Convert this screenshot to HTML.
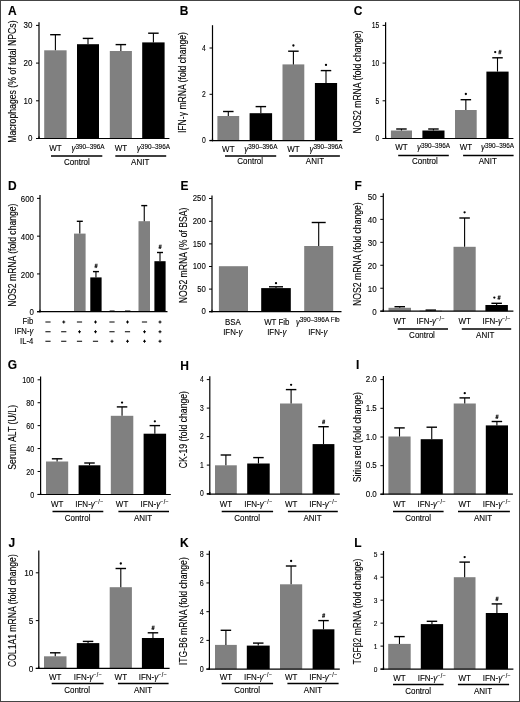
<!DOCTYPE html>
<html><head><meta charset="utf-8"><style>
html,body{margin:0;padding:0;background:#fff;}
svg{display:block;filter:grayscale(1);}
text{font-family:"Liberation Sans", sans-serif;fill:#000;stroke:#000;stroke-width:0.12px;}
</style></head><body>
<svg width="520" height="702" viewBox="0 0 520 702">
<rect x="0" y="0" width="520" height="702" fill="#fff"/>
<text transform="translate(7.90 15.40) scale(0.88 1)" font-size="13.6" font-weight="bold">A</text>
<line x1="39.00" y1="22.30" x2="39.00" y2="139.10" stroke="#000" stroke-width="1.2"/>
<line x1="36.00" y1="138.50" x2="39.00" y2="138.50" stroke="#000" stroke-width="1.0"/>
<text transform="translate(32.40 141.24) scale(0.833 1)" font-size="9.60" text-anchor="end">0</text>
<line x1="36.00" y1="100.80" x2="39.00" y2="100.80" stroke="#000" stroke-width="1.0"/>
<text transform="translate(32.40 103.54) scale(0.833 1)" font-size="9.60" text-anchor="end">10</text>
<line x1="36.00" y1="63.10" x2="39.00" y2="63.10" stroke="#000" stroke-width="1.0"/>
<text transform="translate(32.40 65.84) scale(0.833 1)" font-size="9.60" text-anchor="end">20</text>
<line x1="36.00" y1="25.40" x2="39.00" y2="25.40" stroke="#000" stroke-width="1.0"/>
<text transform="translate(32.40 28.14) scale(0.833 1)" font-size="9.60" text-anchor="end">30</text>
<rect x="44.20" y="50.30" width="22.40" height="88.20" fill="#808080"/>
<line x1="55.40" y1="34.70" x2="55.40" y2="50.30" stroke="#000" stroke-width="1.1"/>
<line x1="50.15" y1="34.70" x2="60.65" y2="34.70" stroke="#000" stroke-width="1.4"/>
<rect x="77.00" y="44.20" width="22.00" height="94.30" fill="#000"/>
<line x1="88.00" y1="38.40" x2="88.00" y2="44.20" stroke="#000" stroke-width="1.1"/>
<line x1="82.75" y1="38.40" x2="93.25" y2="38.40" stroke="#000" stroke-width="1.4"/>
<rect x="109.80" y="51.00" width="22.10" height="87.50" fill="#808080"/>
<line x1="120.85" y1="44.60" x2="120.85" y2="51.00" stroke="#000" stroke-width="1.1"/>
<line x1="115.60" y1="44.60" x2="126.10" y2="44.60" stroke="#000" stroke-width="1.4"/>
<rect x="142.20" y="42.40" width="22.40" height="96.10" fill="#000"/>
<line x1="153.40" y1="33.20" x2="153.40" y2="42.40" stroke="#000" stroke-width="1.1"/>
<line x1="148.15" y1="33.20" x2="158.65" y2="33.20" stroke="#000" stroke-width="1.4"/>
<line x1="36.00" y1="138.50" x2="169.40" y2="138.50" stroke="#000" stroke-width="1.2"/>
<line x1="39.00" y1="136.50" x2="39.00" y2="139.10" stroke="#000" stroke-width="1.2"/>
<text transform="translate(15.90 81.60) rotate(-90) scale(0.836 1)" font-size="10.42" text-anchor="middle">Macrophages (% of total NPCs)</text>
<text transform="translate(55.40 151.00) scale(0.833 1)" font-size="9.60" text-anchor="middle">WT</text>
<text transform="translate(88.00 151.00) scale(0.833 1)" font-size="9.60" text-anchor="middle"><tspan font-style="italic">γ</tspan><tspan font-size="7.68" dy="-2.5">390–396A</tspan></text>
<text transform="translate(120.85 151.00) scale(0.833 1)" font-size="9.60" text-anchor="middle">WT</text>
<text transform="translate(153.40 151.00) scale(0.833 1)" font-size="9.60" text-anchor="middle"><tspan font-style="italic">γ</tspan><tspan font-size="7.68" dy="-2.5">390–396A</tspan></text>
<line x1="51.00" y1="156.00" x2="102.30" y2="156.00" stroke="#000" stroke-width="1.5"/>
<line x1="115.30" y1="156.00" x2="166.20" y2="156.00" stroke="#000" stroke-width="1.5"/>
<text transform="translate(76.90 164.60) scale(0.833 1)" font-size="9.60" text-anchor="middle">Control</text>
<text transform="translate(140.20 164.60) scale(0.833 1)" font-size="9.60" text-anchor="middle">ANIT</text>
<text transform="translate(179.80 15.40) scale(0.88 1)" font-size="13.6" font-weight="bold">B</text>
<line x1="212.50" y1="25.20" x2="212.50" y2="141.20" stroke="#000" stroke-width="1.2"/>
<line x1="209.50" y1="140.40" x2="212.50" y2="140.40" stroke="#000" stroke-width="1.0"/>
<text transform="translate(205.90 143.32) scale(0.833 1)" font-size="8.16" text-anchor="end">0</text>
<line x1="209.50" y1="94.30" x2="212.50" y2="94.30" stroke="#000" stroke-width="1.0"/>
<text transform="translate(205.90 97.22) scale(0.833 1)" font-size="8.16" text-anchor="end">2</text>
<line x1="209.50" y1="48.00" x2="212.50" y2="48.00" stroke="#000" stroke-width="1.0"/>
<text transform="translate(205.90 50.92) scale(0.833 1)" font-size="8.16" text-anchor="end">4</text>
<rect x="217.40" y="116.00" width="21.80" height="24.60" fill="#808080"/>
<line x1="228.30" y1="111.50" x2="228.30" y2="116.00" stroke="#000" stroke-width="1.1"/>
<line x1="223.05" y1="111.50" x2="233.55" y2="111.50" stroke="#000" stroke-width="1.4"/>
<rect x="249.60" y="113.20" width="22.50" height="27.40" fill="#000"/>
<line x1="260.85" y1="106.60" x2="260.85" y2="113.20" stroke="#000" stroke-width="1.1"/>
<line x1="255.60" y1="106.60" x2="266.10" y2="106.60" stroke="#000" stroke-width="1.4"/>
<rect x="282.50" y="64.40" width="21.80" height="76.20" fill="#808080"/>
<line x1="293.40" y1="51.20" x2="293.40" y2="64.40" stroke="#000" stroke-width="1.1"/>
<line x1="288.15" y1="51.20" x2="298.65" y2="51.20" stroke="#000" stroke-width="1.4"/>
<circle cx="293.40" cy="45.50" r="1.15" fill="#000"/>
<rect x="314.90" y="83.00" width="22.20" height="57.60" fill="#000"/>
<line x1="326.00" y1="70.60" x2="326.00" y2="83.00" stroke="#000" stroke-width="1.1"/>
<line x1="320.75" y1="70.60" x2="331.25" y2="70.60" stroke="#000" stroke-width="1.4"/>
<circle cx="326.00" cy="64.90" r="1.15" fill="#000"/>
<line x1="209.50" y1="140.60" x2="342.30" y2="140.60" stroke="#000" stroke-width="1.2"/>
<line x1="212.50" y1="138.60" x2="212.50" y2="141.20" stroke="#000" stroke-width="1.2"/>
<text transform="translate(186.40 82.60) rotate(-90) scale(0.827 1)" font-size="10.42" text-anchor="middle">IFN-γ mRNA (fold change)</text>
<text transform="translate(228.30 151.50) scale(0.833 1)" font-size="9.60" text-anchor="middle">WT</text>
<text transform="translate(260.85 151.50) scale(0.833 1)" font-size="9.60" text-anchor="middle"><tspan font-style="italic">γ</tspan><tspan font-size="7.68" dy="-2.5">390–396A</tspan></text>
<text transform="translate(293.40 151.50) scale(0.833 1)" font-size="9.60" text-anchor="middle">WT</text>
<text transform="translate(326.00 151.50) scale(0.833 1)" font-size="9.60" text-anchor="middle"><tspan font-style="italic">γ</tspan><tspan font-size="7.68" dy="-2.5">390–396A</tspan></text>
<line x1="225.00" y1="156.10" x2="276.20" y2="156.10" stroke="#000" stroke-width="1.5"/>
<line x1="289.20" y1="156.10" x2="339.90" y2="156.10" stroke="#000" stroke-width="1.5"/>
<text transform="translate(250.20 164.20) scale(0.833 1)" font-size="9.60" text-anchor="middle">Control</text>
<text transform="translate(314.90 164.20) scale(0.833 1)" font-size="9.60" text-anchor="middle">ANIT</text>
<text transform="translate(353.80 15.40) scale(0.88 1)" font-size="13.6" font-weight="bold">C</text>
<line x1="385.60" y1="22.20" x2="385.60" y2="139.10" stroke="#000" stroke-width="1.2"/>
<line x1="382.60" y1="138.50" x2="385.60" y2="138.50" stroke="#000" stroke-width="1.0"/>
<text transform="translate(379.30 141.42) scale(0.833 1)" font-size="8.16" text-anchor="end">0</text>
<line x1="382.60" y1="100.80" x2="385.60" y2="100.80" stroke="#000" stroke-width="1.0"/>
<text transform="translate(379.30 103.72) scale(0.833 1)" font-size="8.16" text-anchor="end">5</text>
<line x1="382.60" y1="63.10" x2="385.60" y2="63.10" stroke="#000" stroke-width="1.0"/>
<text transform="translate(379.30 66.02) scale(0.833 1)" font-size="8.16" text-anchor="end">10</text>
<line x1="382.60" y1="25.40" x2="385.60" y2="25.40" stroke="#000" stroke-width="1.0"/>
<text transform="translate(379.30 28.32) scale(0.833 1)" font-size="8.16" text-anchor="end">15</text>
<rect x="390.90" y="130.50" width="21.10" height="8.00" fill="#808080"/>
<line x1="401.45" y1="129.00" x2="401.45" y2="130.50" stroke="#000" stroke-width="1.1"/>
<line x1="396.20" y1="129.00" x2="406.70" y2="129.00" stroke="#000" stroke-width="1.4"/>
<rect x="422.40" y="130.50" width="22.10" height="8.00" fill="#000"/>
<line x1="433.45" y1="129.00" x2="433.45" y2="130.50" stroke="#000" stroke-width="1.1"/>
<line x1="428.20" y1="129.00" x2="438.70" y2="129.00" stroke="#000" stroke-width="1.4"/>
<rect x="455.00" y="110.00" width="21.70" height="28.50" fill="#808080"/>
<line x1="465.85" y1="99.70" x2="465.85" y2="110.00" stroke="#000" stroke-width="1.1"/>
<line x1="460.60" y1="99.70" x2="471.10" y2="99.70" stroke="#000" stroke-width="1.4"/>
<circle cx="465.85" cy="94.00" r="1.15" fill="#000"/>
<rect x="486.40" y="71.60" width="22.20" height="66.90" fill="#000"/>
<line x1="497.50" y1="57.80" x2="497.50" y2="71.60" stroke="#000" stroke-width="1.1"/>
<line x1="492.25" y1="57.80" x2="502.75" y2="57.80" stroke="#000" stroke-width="1.4"/>
<circle cx="495.20" cy="52.10" r="1.15" fill="#000"/>
<path d="M499.70 49.90L499.00 54.30M500.90 49.90L500.20 54.30M498.50 51.30H501.50M498.30 52.90H501.30" stroke="#000" stroke-width="0.70" fill="none"/>
<line x1="382.60" y1="138.50" x2="513.40" y2="138.50" stroke="#000" stroke-width="1.2"/>
<line x1="385.60" y1="136.50" x2="385.60" y2="139.10" stroke="#000" stroke-width="1.2"/>
<text transform="translate(361.10 81.95) rotate(-90) scale(0.826 1)" font-size="10.42" text-anchor="middle">NOS2 mRNA (fold change)</text>
<text transform="translate(401.45 150.40) scale(0.833 1)" font-size="9.60" text-anchor="middle">WT</text>
<text transform="translate(433.45 150.40) scale(0.833 1)" font-size="9.60" text-anchor="middle"><tspan font-style="italic">γ</tspan><tspan font-size="7.68" dy="-2.5">390–396A</tspan></text>
<text transform="translate(465.85 150.40) scale(0.833 1)" font-size="9.60" text-anchor="middle">WT</text>
<text transform="translate(497.50 150.40) scale(0.833 1)" font-size="9.60" text-anchor="middle"><tspan font-style="italic">γ</tspan><tspan font-size="7.68" dy="-2.5">390–396A</tspan></text>
<line x1="398.20" y1="155.60" x2="448.80" y2="155.60" stroke="#000" stroke-width="1.5"/>
<line x1="463.10" y1="155.60" x2="513.60" y2="155.60" stroke="#000" stroke-width="1.5"/>
<text transform="translate(424.90 164.10) scale(0.833 1)" font-size="9.60" text-anchor="middle">Control</text>
<text transform="translate(487.80 164.10) scale(0.833 1)" font-size="9.60" text-anchor="middle">ANIT</text>
<text transform="translate(354.50 190.20) scale(0.88 1)" font-size="13.6" font-weight="bold">F</text>
<line x1="383.30" y1="193.20" x2="383.30" y2="311.80" stroke="#000" stroke-width="1.2"/>
<line x1="380.30" y1="311.20" x2="383.30" y2="311.20" stroke="#000" stroke-width="1.0"/>
<text transform="translate(376.70 314.64) scale(0.833 1)" font-size="9.60" text-anchor="end">0</text>
<line x1="380.30" y1="288.24" x2="383.30" y2="288.24" stroke="#000" stroke-width="1.0"/>
<text transform="translate(376.70 291.68) scale(0.833 1)" font-size="9.60" text-anchor="end">10</text>
<line x1="380.30" y1="265.28" x2="383.30" y2="265.28" stroke="#000" stroke-width="1.0"/>
<text transform="translate(376.70 268.72) scale(0.833 1)" font-size="9.60" text-anchor="end">20</text>
<line x1="380.30" y1="242.32" x2="383.30" y2="242.32" stroke="#000" stroke-width="1.0"/>
<text transform="translate(376.70 245.76) scale(0.833 1)" font-size="9.60" text-anchor="end">30</text>
<line x1="380.30" y1="219.36" x2="383.30" y2="219.36" stroke="#000" stroke-width="1.0"/>
<text transform="translate(376.70 222.80) scale(0.833 1)" font-size="9.60" text-anchor="end">40</text>
<line x1="380.30" y1="196.40" x2="383.30" y2="196.40" stroke="#000" stroke-width="1.0"/>
<text transform="translate(376.70 199.84) scale(0.833 1)" font-size="9.60" text-anchor="end">50</text>
<rect x="388.50" y="307.80" width="22.50" height="3.40" fill="#808080"/>
<line x1="399.75" y1="306.70" x2="399.75" y2="307.80" stroke="#000" stroke-width="1.1"/>
<line x1="394.50" y1="306.70" x2="405.00" y2="306.70" stroke="#000" stroke-width="1.4"/>
<rect x="419.60" y="310.80" width="22.40" height="0.40" fill="#000"/>
<line x1="430.80" y1="310.10" x2="430.80" y2="310.80" stroke="#000" stroke-width="1.1"/>
<line x1="425.55" y1="310.10" x2="436.05" y2="310.10" stroke="#000" stroke-width="1.4"/>
<rect x="453.50" y="246.80" width="22.20" height="64.40" fill="#808080"/>
<line x1="464.60" y1="218.00" x2="464.60" y2="246.80" stroke="#000" stroke-width="1.1"/>
<line x1="459.35" y1="218.00" x2="469.85" y2="218.00" stroke="#000" stroke-width="1.4"/>
<circle cx="464.60" cy="212.30" r="1.15" fill="#000"/>
<rect x="485.40" y="305.00" width="22.50" height="6.20" fill="#000"/>
<line x1="496.65" y1="303.30" x2="496.65" y2="305.00" stroke="#000" stroke-width="1.1"/>
<line x1="491.40" y1="303.30" x2="501.90" y2="303.30" stroke="#000" stroke-width="1.4"/>
<circle cx="494.35" cy="297.60" r="1.15" fill="#000"/>
<path d="M498.85 295.40L498.15 299.80M500.05 295.40L499.35 299.80M497.65 296.80H500.65M497.45 298.40H500.45" stroke="#000" stroke-width="0.70" fill="none"/>
<line x1="380.30" y1="311.20" x2="513.40" y2="311.20" stroke="#000" stroke-width="1.2"/>
<line x1="383.30" y1="309.20" x2="383.30" y2="311.80" stroke="#000" stroke-width="1.2"/>
<text transform="translate(360.70 254.10) rotate(-90) scale(0.829 1)" font-size="10.42" text-anchor="middle">NOS2 mRNA (fold change)</text>
<text transform="translate(399.75 324.00) scale(0.833 1)" font-size="9.60" text-anchor="middle">WT</text>
<text transform="translate(430.80 324.00) scale(0.833 1)" font-size="9.60" text-anchor="middle">IFN-<tspan font-style="italic">γ</tspan><tspan font-size="6.36" dy="-2.8" letter-spacing="0.5">−/−</tspan></text>
<text transform="translate(464.60 324.00) scale(0.833 1)" font-size="9.60" text-anchor="middle">WT</text>
<text transform="translate(496.65 324.00) scale(0.833 1)" font-size="9.60" text-anchor="middle">IFN-<tspan font-style="italic">γ</tspan><tspan font-size="6.36" dy="-2.8" letter-spacing="0.5">−/−</tspan></text>
<line x1="397.70" y1="329.00" x2="448.00" y2="329.00" stroke="#000" stroke-width="1.5"/>
<line x1="461.80" y1="329.00" x2="511.20" y2="329.00" stroke="#000" stroke-width="1.5"/>
<text transform="translate(422.00 337.50) scale(0.833 1)" font-size="9.60" text-anchor="middle">Control</text>
<text transform="translate(485.20 337.50) scale(0.833 1)" font-size="9.60" text-anchor="middle">ANIT</text>
<text transform="translate(7.70 369.40) scale(0.88 1)" font-size="13.6" font-weight="bold">G</text>
<line x1="40.60" y1="376.60" x2="40.60" y2="495.10" stroke="#000" stroke-width="1.2"/>
<line x1="37.60" y1="494.40" x2="40.60" y2="494.40" stroke="#000" stroke-width="1.0"/>
<text transform="translate(34.20 497.89) scale(0.833 1)" font-size="8.64" text-anchor="end">0</text>
<line x1="37.60" y1="471.48" x2="40.60" y2="471.48" stroke="#000" stroke-width="1.0"/>
<text transform="translate(34.20 474.97) scale(0.833 1)" font-size="8.64" text-anchor="end">20</text>
<line x1="37.60" y1="448.56" x2="40.60" y2="448.56" stroke="#000" stroke-width="1.0"/>
<text transform="translate(34.20 452.05) scale(0.833 1)" font-size="8.64" text-anchor="end">40</text>
<line x1="37.60" y1="425.64" x2="40.60" y2="425.64" stroke="#000" stroke-width="1.0"/>
<text transform="translate(34.20 429.13) scale(0.833 1)" font-size="8.64" text-anchor="end">60</text>
<line x1="37.60" y1="402.72" x2="40.60" y2="402.72" stroke="#000" stroke-width="1.0"/>
<text transform="translate(34.20 406.21) scale(0.833 1)" font-size="8.64" text-anchor="end">80</text>
<line x1="37.60" y1="379.80" x2="40.60" y2="379.80" stroke="#000" stroke-width="1.0"/>
<text transform="translate(34.20 383.29) scale(0.833 1)" font-size="8.64" text-anchor="end">100</text>
<rect x="46.00" y="461.50" width="22.20" height="33.00" fill="#808080"/>
<line x1="57.10" y1="458.80" x2="57.10" y2="461.50" stroke="#000" stroke-width="1.1"/>
<line x1="51.85" y1="458.80" x2="62.35" y2="458.80" stroke="#000" stroke-width="1.4"/>
<rect x="78.60" y="465.30" width="21.80" height="29.20" fill="#000"/>
<line x1="89.50" y1="463.00" x2="89.50" y2="465.30" stroke="#000" stroke-width="1.1"/>
<line x1="84.25" y1="463.00" x2="94.75" y2="463.00" stroke="#000" stroke-width="1.4"/>
<rect x="110.80" y="415.80" width="22.50" height="78.70" fill="#808080"/>
<line x1="122.05" y1="406.90" x2="122.05" y2="415.80" stroke="#000" stroke-width="1.1"/>
<line x1="116.80" y1="406.90" x2="127.30" y2="406.90" stroke="#000" stroke-width="1.4"/>
<circle cx="122.05" cy="402.60" r="1.15" fill="#000"/>
<rect x="143.60" y="433.70" width="22.50" height="60.80" fill="#000"/>
<line x1="154.85" y1="425.60" x2="154.85" y2="433.70" stroke="#000" stroke-width="1.1"/>
<line x1="149.60" y1="425.60" x2="160.10" y2="425.60" stroke="#000" stroke-width="1.4"/>
<circle cx="154.85" cy="421.30" r="1.15" fill="#000"/>
<line x1="37.60" y1="494.50" x2="170.80" y2="494.50" stroke="#000" stroke-width="1.2"/>
<line x1="40.60" y1="492.50" x2="40.60" y2="495.10" stroke="#000" stroke-width="1.2"/>
<text transform="translate(15.50 437.35) rotate(-90) scale(0.840 1)" font-size="10.42" text-anchor="middle">Serum ALT (U/L)</text>
<text transform="translate(57.10 506.70) scale(0.833 1)" font-size="9.60" text-anchor="middle">WT</text>
<text transform="translate(89.50 506.70) scale(0.833 1)" font-size="9.60" text-anchor="middle">IFN-<tspan font-style="italic">γ</tspan><tspan font-size="6.36" dy="-2.8" letter-spacing="0.5">−/−</tspan></text>
<text transform="translate(122.05 506.70) scale(0.833 1)" font-size="9.60" text-anchor="middle">WT</text>
<text transform="translate(154.85 506.70) scale(0.833 1)" font-size="9.60" text-anchor="middle">IFN-<tspan font-style="italic">γ</tspan><tspan font-size="6.36" dy="-2.8" letter-spacing="0.5">−/−</tspan></text>
<line x1="52.50" y1="511.50" x2="103.30" y2="511.50" stroke="#000" stroke-width="1.5"/>
<line x1="118.40" y1="511.50" x2="169.00" y2="511.50" stroke="#000" stroke-width="1.5"/>
<text transform="translate(77.60 521.00) scale(0.833 1)" font-size="9.60" text-anchor="middle">Control</text>
<text transform="translate(143.00 521.00) scale(0.833 1)" font-size="9.60" text-anchor="middle">ANIT</text>
<text transform="translate(180.30 369.60) scale(0.88 1)" font-size="13.6" font-weight="bold">H</text>
<line x1="209.80" y1="376.30" x2="209.80" y2="494.70" stroke="#000" stroke-width="1.2"/>
<line x1="206.80" y1="493.60" x2="209.80" y2="493.60" stroke="#000" stroke-width="1.0"/>
<text transform="translate(203.80 496.12) scale(0.833 1)" font-size="8.16" text-anchor="end">0</text>
<line x1="206.80" y1="465.10" x2="209.80" y2="465.10" stroke="#000" stroke-width="1.0"/>
<text transform="translate(203.80 467.62) scale(0.833 1)" font-size="8.16" text-anchor="end">1</text>
<line x1="206.80" y1="436.60" x2="209.80" y2="436.60" stroke="#000" stroke-width="1.0"/>
<text transform="translate(203.80 439.12) scale(0.833 1)" font-size="8.16" text-anchor="end">2</text>
<line x1="206.80" y1="408.10" x2="209.80" y2="408.10" stroke="#000" stroke-width="1.0"/>
<text transform="translate(203.80 410.62) scale(0.833 1)" font-size="8.16" text-anchor="end">3</text>
<line x1="206.80" y1="379.60" x2="209.80" y2="379.60" stroke="#000" stroke-width="1.0"/>
<text transform="translate(203.80 382.12) scale(0.833 1)" font-size="8.16" text-anchor="end">4</text>
<rect x="215.00" y="465.30" width="21.80" height="28.80" fill="#808080"/>
<line x1="225.90" y1="455.00" x2="225.90" y2="465.30" stroke="#000" stroke-width="1.1"/>
<line x1="220.65" y1="455.00" x2="231.15" y2="455.00" stroke="#000" stroke-width="1.4"/>
<rect x="247.20" y="463.50" width="22.50" height="30.60" fill="#000"/>
<line x1="258.45" y1="457.60" x2="258.45" y2="463.50" stroke="#000" stroke-width="1.1"/>
<line x1="253.20" y1="457.60" x2="263.70" y2="457.60" stroke="#000" stroke-width="1.4"/>
<rect x="280.00" y="403.50" width="22.20" height="90.60" fill="#808080"/>
<line x1="291.10" y1="389.60" x2="291.10" y2="403.50" stroke="#000" stroke-width="1.1"/>
<line x1="285.85" y1="389.60" x2="296.35" y2="389.60" stroke="#000" stroke-width="1.4"/>
<circle cx="291.10" cy="384.80" r="1.15" fill="#000"/>
<rect x="312.60" y="444.10" width="21.80" height="50.00" fill="#000"/>
<line x1="323.50" y1="426.70" x2="323.50" y2="444.10" stroke="#000" stroke-width="1.1"/>
<line x1="318.25" y1="426.70" x2="328.75" y2="426.70" stroke="#000" stroke-width="1.4"/>
<path d="M323.40 419.70L322.70 424.10M324.60 419.70L323.90 424.10M322.20 421.10H325.20M322.00 422.70H325.00" stroke="#000" stroke-width="0.70" fill="none"/>
<line x1="206.80" y1="494.10" x2="339.80" y2="494.10" stroke="#000" stroke-width="1.2"/>
<line x1="209.80" y1="492.10" x2="209.80" y2="494.70" stroke="#000" stroke-width="1.2"/>
<text transform="translate(186.80 429.70) rotate(-90) scale(0.830 1)" font-size="10.42" text-anchor="middle">CK-19 (fold change)</text>
<text transform="translate(225.90 506.70) scale(0.833 1)" font-size="9.60" text-anchor="middle">WT</text>
<text transform="translate(258.45 506.70) scale(0.833 1)" font-size="9.60" text-anchor="middle">IFN-<tspan font-style="italic">γ</tspan><tspan font-size="6.36" dy="-2.8" letter-spacing="0.5">−/−</tspan></text>
<text transform="translate(291.10 506.70) scale(0.833 1)" font-size="9.60" text-anchor="middle">WT</text>
<text transform="translate(323.50 506.70) scale(0.833 1)" font-size="9.60" text-anchor="middle">IFN-<tspan font-style="italic">γ</tspan><tspan font-size="6.36" dy="-2.8" letter-spacing="0.5">−/−</tspan></text>
<line x1="221.70" y1="511.50" x2="273.10" y2="511.50" stroke="#000" stroke-width="1.5"/>
<line x1="287.90" y1="511.50" x2="337.80" y2="511.50" stroke="#000" stroke-width="1.5"/>
<text transform="translate(247.20 521.00) scale(0.833 1)" font-size="9.60" text-anchor="middle">Control</text>
<text transform="translate(312.60 521.00) scale(0.833 1)" font-size="9.60" text-anchor="middle">ANIT</text>
<text transform="translate(356.10 369.00) scale(0.88 1)" font-size="13.6" font-weight="bold">I</text>
<line x1="383.40" y1="376.00" x2="383.40" y2="494.80" stroke="#000" stroke-width="1.2"/>
<line x1="380.40" y1="494.30" x2="383.40" y2="494.30" stroke="#000" stroke-width="1.0"/>
<text transform="translate(376.80 496.94) scale(0.833 1)" font-size="9.60" text-anchor="end">0.0</text>
<line x1="380.40" y1="465.70" x2="383.40" y2="465.70" stroke="#000" stroke-width="1.0"/>
<text transform="translate(376.80 468.34) scale(0.833 1)" font-size="9.60" text-anchor="end">0.5</text>
<line x1="380.40" y1="437.00" x2="383.40" y2="437.00" stroke="#000" stroke-width="1.0"/>
<text transform="translate(376.80 439.64) scale(0.833 1)" font-size="9.60" text-anchor="end">1.0</text>
<line x1="380.40" y1="408.30" x2="383.40" y2="408.30" stroke="#000" stroke-width="1.0"/>
<text transform="translate(376.80 410.94) scale(0.833 1)" font-size="9.60" text-anchor="end">1.5</text>
<line x1="380.40" y1="379.60" x2="383.40" y2="379.60" stroke="#000" stroke-width="1.0"/>
<text transform="translate(376.80 382.24) scale(0.833 1)" font-size="9.60" text-anchor="end">2.0</text>
<rect x="388.40" y="436.50" width="22.20" height="57.70" fill="#808080"/>
<line x1="399.50" y1="427.90" x2="399.50" y2="436.50" stroke="#000" stroke-width="1.1"/>
<line x1="394.25" y1="427.90" x2="404.75" y2="427.90" stroke="#000" stroke-width="1.4"/>
<rect x="420.70" y="439.20" width="22.10" height="55.00" fill="#000"/>
<line x1="431.75" y1="427.20" x2="431.75" y2="439.20" stroke="#000" stroke-width="1.1"/>
<line x1="426.50" y1="427.20" x2="437.00" y2="427.20" stroke="#000" stroke-width="1.4"/>
<rect x="453.70" y="403.50" width="22.10" height="90.70" fill="#808080"/>
<line x1="464.75" y1="397.90" x2="464.75" y2="403.50" stroke="#000" stroke-width="1.1"/>
<line x1="459.50" y1="397.90" x2="470.00" y2="397.90" stroke="#000" stroke-width="1.4"/>
<circle cx="464.75" cy="393.20" r="1.15" fill="#000"/>
<rect x="485.80" y="425.40" width="22.20" height="68.80" fill="#000"/>
<line x1="496.90" y1="421.50" x2="496.90" y2="425.40" stroke="#000" stroke-width="1.1"/>
<line x1="491.65" y1="421.50" x2="502.15" y2="421.50" stroke="#000" stroke-width="1.4"/>
<path d="M496.80 414.60L496.10 419.00M498.00 414.60L497.30 419.00M495.60 416.00H498.60M495.40 417.60H498.40" stroke="#000" stroke-width="0.70" fill="none"/>
<line x1="380.40" y1="494.20" x2="512.90" y2="494.20" stroke="#000" stroke-width="1.2"/>
<line x1="383.40" y1="492.20" x2="383.40" y2="494.80" stroke="#000" stroke-width="1.2"/>
<text transform="translate(361.10 437.15) rotate(-90) scale(0.840 1)" font-size="10.42" text-anchor="middle">Sirius red (fold change)</text>
<text transform="translate(399.50 506.70) scale(0.833 1)" font-size="9.60" text-anchor="middle">WT</text>
<text transform="translate(431.75 506.70) scale(0.833 1)" font-size="9.60" text-anchor="middle">IFN-<tspan font-style="italic">γ</tspan><tspan font-size="6.36" dy="-2.8" letter-spacing="0.5">−/−</tspan></text>
<text transform="translate(464.75 506.70) scale(0.833 1)" font-size="9.60" text-anchor="middle">WT</text>
<text transform="translate(496.90 506.70) scale(0.833 1)" font-size="9.60" text-anchor="middle">IFN-<tspan font-style="italic">γ</tspan><tspan font-size="6.36" dy="-2.8" letter-spacing="0.5">−/−</tspan></text>
<line x1="393.00" y1="511.50" x2="443.60" y2="511.50" stroke="#000" stroke-width="1.5"/>
<line x1="458.00" y1="511.50" x2="509.90" y2="511.50" stroke="#000" stroke-width="1.5"/>
<text transform="translate(418.10 521.00) scale(0.833 1)" font-size="9.60" text-anchor="middle">Control</text>
<text transform="translate(483.00 521.00) scale(0.833 1)" font-size="9.60" text-anchor="middle">ANIT</text>
<text transform="translate(8.50 546.70) scale(0.88 1)" font-size="13.6" font-weight="bold">J</text>
<line x1="38.80" y1="550.40" x2="38.80" y2="669.00" stroke="#000" stroke-width="1.2"/>
<line x1="35.80" y1="668.40" x2="38.80" y2="668.40" stroke="#000" stroke-width="1.0"/>
<text transform="translate(33.40 671.97) scale(0.833 1)" font-size="9.96" text-anchor="end">0</text>
<line x1="35.80" y1="620.60" x2="38.80" y2="620.60" stroke="#000" stroke-width="1.0"/>
<text transform="translate(33.40 624.17) scale(0.833 1)" font-size="9.96" text-anchor="end">5</text>
<line x1="35.80" y1="572.80" x2="38.80" y2="572.80" stroke="#000" stroke-width="1.0"/>
<text transform="translate(33.40 576.37) scale(0.833 1)" font-size="9.96" text-anchor="end">10</text>
<rect x="44.00" y="656.30" width="22.50" height="12.10" fill="#808080"/>
<line x1="55.25" y1="652.80" x2="55.25" y2="656.30" stroke="#000" stroke-width="1.1"/>
<line x1="50.00" y1="652.80" x2="60.50" y2="652.80" stroke="#000" stroke-width="1.4"/>
<rect x="76.80" y="643.10" width="22.50" height="25.30" fill="#000"/>
<line x1="88.05" y1="641.40" x2="88.05" y2="643.10" stroke="#000" stroke-width="1.1"/>
<line x1="82.80" y1="641.40" x2="93.30" y2="641.40" stroke="#000" stroke-width="1.4"/>
<rect x="109.70" y="587.20" width="22.20" height="81.20" fill="#808080"/>
<line x1="120.80" y1="568.50" x2="120.80" y2="587.20" stroke="#000" stroke-width="1.1"/>
<line x1="115.55" y1="568.50" x2="126.05" y2="568.50" stroke="#000" stroke-width="1.4"/>
<circle cx="120.80" cy="563.50" r="1.15" fill="#000"/>
<rect x="141.90" y="638.00" width="22.10" height="30.40" fill="#000"/>
<line x1="152.95" y1="632.80" x2="152.95" y2="638.00" stroke="#000" stroke-width="1.1"/>
<line x1="147.70" y1="632.80" x2="158.20" y2="632.80" stroke="#000" stroke-width="1.4"/>
<path d="M152.85 625.60L152.15 630.00M154.05 625.60L153.35 630.00M151.65 627.00H154.65M151.45 628.60H154.45" stroke="#000" stroke-width="0.70" fill="none"/>
<line x1="35.80" y1="668.40" x2="169.60" y2="668.40" stroke="#000" stroke-width="1.2"/>
<line x1="38.80" y1="666.40" x2="38.80" y2="669.00" stroke="#000" stroke-width="1.2"/>
<text transform="translate(15.90 610.65) rotate(-90) scale(0.826 1)" font-size="10.42" text-anchor="middle">COL1A1 mRNA (fold change)</text>
<text transform="translate(55.25 679.50) scale(0.833 1)" font-size="9.60" text-anchor="middle">WT</text>
<text transform="translate(88.05 679.50) scale(0.833 1)" font-size="9.60" text-anchor="middle">IFN-<tspan font-style="italic">γ</tspan><tspan font-size="6.36" dy="-2.8" letter-spacing="0.5">−/−</tspan></text>
<text transform="translate(120.80 679.50) scale(0.833 1)" font-size="9.60" text-anchor="middle">WT</text>
<text transform="translate(152.95 679.50) scale(0.833 1)" font-size="9.60" text-anchor="middle">IFN-<tspan font-style="italic">γ</tspan><tspan font-size="6.36" dy="-2.8" letter-spacing="0.5">−/−</tspan></text>
<line x1="51.70" y1="683.50" x2="103.60" y2="683.50" stroke="#000" stroke-width="1.5"/>
<line x1="117.90" y1="683.50" x2="168.60" y2="683.50" stroke="#000" stroke-width="1.5"/>
<text transform="translate(77.10 693.20) scale(0.833 1)" font-size="9.60" text-anchor="middle">Control</text>
<text transform="translate(143.10 693.20) scale(0.833 1)" font-size="9.60" text-anchor="middle">ANIT</text>
<text transform="translate(180.10 546.70) scale(0.88 1)" font-size="13.6" font-weight="bold">K</text>
<line x1="209.40" y1="550.80" x2="209.40" y2="669.70" stroke="#000" stroke-width="1.2"/>
<line x1="206.40" y1="669.10" x2="209.40" y2="669.10" stroke="#000" stroke-width="1.0"/>
<text transform="translate(203.70 671.99) scale(0.833 1)" font-size="8.64" text-anchor="end">0</text>
<line x1="206.40" y1="640.38" x2="209.40" y2="640.38" stroke="#000" stroke-width="1.0"/>
<text transform="translate(203.70 643.27) scale(0.833 1)" font-size="8.64" text-anchor="end">2</text>
<line x1="206.40" y1="611.66" x2="209.40" y2="611.66" stroke="#000" stroke-width="1.0"/>
<text transform="translate(203.70 614.55) scale(0.833 1)" font-size="8.64" text-anchor="end">4</text>
<line x1="206.40" y1="582.94" x2="209.40" y2="582.94" stroke="#000" stroke-width="1.0"/>
<text transform="translate(203.70 585.83) scale(0.833 1)" font-size="8.64" text-anchor="end">6</text>
<line x1="206.40" y1="554.22" x2="209.40" y2="554.22" stroke="#000" stroke-width="1.0"/>
<text transform="translate(203.70 557.11) scale(0.833 1)" font-size="8.64" text-anchor="end">8</text>
<rect x="215.00" y="644.90" width="21.80" height="24.20" fill="#808080"/>
<line x1="225.90" y1="630.30" x2="225.90" y2="644.90" stroke="#000" stroke-width="1.1"/>
<line x1="220.65" y1="630.30" x2="231.15" y2="630.30" stroke="#000" stroke-width="1.4"/>
<rect x="246.80" y="645.60" width="22.90" height="23.50" fill="#000"/>
<line x1="258.25" y1="643.10" x2="258.25" y2="645.60" stroke="#000" stroke-width="1.1"/>
<line x1="253.00" y1="643.10" x2="263.50" y2="643.10" stroke="#000" stroke-width="1.4"/>
<rect x="280.00" y="584.30" width="22.20" height="84.80" fill="#808080"/>
<line x1="291.10" y1="566.00" x2="291.10" y2="584.30" stroke="#000" stroke-width="1.1"/>
<line x1="285.85" y1="566.00" x2="296.35" y2="566.00" stroke="#000" stroke-width="1.4"/>
<circle cx="291.10" cy="561.00" r="1.15" fill="#000"/>
<rect x="312.60" y="629.30" width="21.80" height="39.80" fill="#000"/>
<line x1="323.50" y1="620.60" x2="323.50" y2="629.30" stroke="#000" stroke-width="1.1"/>
<line x1="318.25" y1="620.60" x2="328.75" y2="620.60" stroke="#000" stroke-width="1.4"/>
<path d="M323.40 613.40L322.70 617.80M324.60 613.40L323.90 617.80M322.20 614.80H325.20M322.00 616.40H325.00" stroke="#000" stroke-width="0.70" fill="none"/>
<line x1="206.40" y1="669.10" x2="339.80" y2="669.10" stroke="#000" stroke-width="1.2"/>
<line x1="209.40" y1="667.10" x2="209.40" y2="669.70" stroke="#000" stroke-width="1.2"/>
<text transform="translate(186.80 611.25) rotate(-90) scale(0.830 1)" font-size="10.42" text-anchor="middle">ITG-B6 mRNA (fold change)</text>
<text transform="translate(225.90 679.50) scale(0.833 1)" font-size="9.60" text-anchor="middle">WT</text>
<text transform="translate(258.25 679.50) scale(0.833 1)" font-size="9.60" text-anchor="middle">IFN-<tspan font-style="italic">γ</tspan><tspan font-size="6.36" dy="-2.8" letter-spacing="0.5">−/−</tspan></text>
<text transform="translate(291.10 679.50) scale(0.833 1)" font-size="9.60" text-anchor="middle">WT</text>
<text transform="translate(323.50 679.50) scale(0.833 1)" font-size="9.60" text-anchor="middle">IFN-<tspan font-style="italic">γ</tspan><tspan font-size="6.36" dy="-2.8" letter-spacing="0.5">−/−</tspan></text>
<line x1="221.70" y1="683.50" x2="273.10" y2="683.50" stroke="#000" stroke-width="1.5"/>
<line x1="287.40" y1="683.50" x2="338.60" y2="683.50" stroke="#000" stroke-width="1.5"/>
<text transform="translate(247.10 693.20) scale(0.833 1)" font-size="9.60" text-anchor="middle">Control</text>
<text transform="translate(312.90 693.20) scale(0.833 1)" font-size="9.60" text-anchor="middle">ANIT</text>
<text transform="translate(354.30 546.70) scale(0.88 1)" font-size="13.6" font-weight="bold">L</text>
<line x1="383.50" y1="551.00" x2="383.50" y2="669.70" stroke="#000" stroke-width="1.2"/>
<line x1="380.50" y1="669.10" x2="383.50" y2="669.10" stroke="#000" stroke-width="1.0"/>
<text transform="translate(377.30 671.94) scale(0.833 1)" font-size="7.92" text-anchor="end">0</text>
<line x1="380.50" y1="646.12" x2="383.50" y2="646.12" stroke="#000" stroke-width="1.0"/>
<text transform="translate(377.30 648.96) scale(0.833 1)" font-size="7.92" text-anchor="end">1</text>
<line x1="380.50" y1="623.14" x2="383.50" y2="623.14" stroke="#000" stroke-width="1.0"/>
<text transform="translate(377.30 625.98) scale(0.833 1)" font-size="7.92" text-anchor="end">2</text>
<line x1="380.50" y1="600.16" x2="383.50" y2="600.16" stroke="#000" stroke-width="1.0"/>
<text transform="translate(377.30 603.00) scale(0.833 1)" font-size="7.92" text-anchor="end">3</text>
<line x1="380.50" y1="577.18" x2="383.50" y2="577.18" stroke="#000" stroke-width="1.0"/>
<text transform="translate(377.30 580.02) scale(0.833 1)" font-size="7.92" text-anchor="end">4</text>
<line x1="380.50" y1="554.20" x2="383.50" y2="554.20" stroke="#000" stroke-width="1.0"/>
<text transform="translate(377.30 557.04) scale(0.833 1)" font-size="7.92" text-anchor="end">5</text>
<rect x="388.20" y="643.90" width="22.50" height="25.20" fill="#808080"/>
<line x1="399.45" y1="636.60" x2="399.45" y2="643.90" stroke="#000" stroke-width="1.1"/>
<line x1="394.20" y1="636.60" x2="404.70" y2="636.60" stroke="#000" stroke-width="1.4"/>
<rect x="420.80" y="624.10" width="22.30" height="45.00" fill="#000"/>
<line x1="431.95" y1="621.30" x2="431.95" y2="624.10" stroke="#000" stroke-width="1.1"/>
<line x1="426.70" y1="621.30" x2="437.20" y2="621.30" stroke="#000" stroke-width="1.4"/>
<rect x="453.80" y="577.20" width="21.70" height="91.90" fill="#808080"/>
<line x1="464.65" y1="562.10" x2="464.65" y2="577.20" stroke="#000" stroke-width="1.1"/>
<line x1="459.40" y1="562.10" x2="469.90" y2="562.10" stroke="#000" stroke-width="1.4"/>
<circle cx="464.65" cy="557.10" r="1.15" fill="#000"/>
<rect x="485.80" y="613.00" width="22.20" height="56.10" fill="#000"/>
<line x1="496.90" y1="603.90" x2="496.90" y2="613.00" stroke="#000" stroke-width="1.1"/>
<line x1="491.65" y1="603.90" x2="502.15" y2="603.90" stroke="#000" stroke-width="1.4"/>
<path d="M496.80 596.70L496.10 601.10M498.00 596.70L497.30 601.10M495.60 598.10H498.60M495.40 599.70H498.40" stroke="#000" stroke-width="0.70" fill="none"/>
<line x1="380.50" y1="669.10" x2="513.40" y2="669.10" stroke="#000" stroke-width="1.2"/>
<line x1="383.50" y1="667.10" x2="383.50" y2="669.70" stroke="#000" stroke-width="1.2"/>
<text transform="translate(360.70 611.50) rotate(-90) scale(0.819 1)" font-size="10.42" text-anchor="middle">TGFβ2 mRNA (fold change)</text>
<text transform="translate(399.45 680.60) scale(0.833 1)" font-size="9.60" text-anchor="middle">WT</text>
<text transform="translate(431.95 680.60) scale(0.833 1)" font-size="9.60" text-anchor="middle">IFN-<tspan font-style="italic">γ</tspan><tspan font-size="6.36" dy="-2.8" letter-spacing="0.5">−/−</tspan></text>
<text transform="translate(464.65 680.60) scale(0.833 1)" font-size="9.60" text-anchor="middle">WT</text>
<text transform="translate(496.90 680.60) scale(0.833 1)" font-size="9.60" text-anchor="middle">IFN-<tspan font-style="italic">γ</tspan><tspan font-size="6.36" dy="-2.8" letter-spacing="0.5">−/−</tspan></text>
<line x1="393.00" y1="684.50" x2="443.60" y2="684.50" stroke="#000" stroke-width="1.5"/>
<line x1="457.90" y1="684.50" x2="509.10" y2="684.50" stroke="#000" stroke-width="1.5"/>
<text transform="translate(418.10 694.20) scale(0.833 1)" font-size="9.60" text-anchor="middle">Control</text>
<text transform="translate(483.10 694.20) scale(0.833 1)" font-size="9.60" text-anchor="middle">ANIT</text>
<text transform="translate(7.90 190.20) scale(0.88 1)" font-size="13.6" font-weight="bold">D</text>
<line x1="40.00" y1="194.90" x2="40.00" y2="312.30" stroke="#000" stroke-width="1.2"/>
<line x1="37.00" y1="311.70" x2="40.00" y2="311.70" stroke="#000" stroke-width="1.0"/>
<text transform="translate(34.00 315.39) scale(0.833 1)" font-size="9.48" text-anchor="end">0</text>
<line x1="37.00" y1="273.93" x2="40.00" y2="273.93" stroke="#000" stroke-width="1.0"/>
<text transform="translate(34.00 277.62) scale(0.833 1)" font-size="9.48" text-anchor="end">200</text>
<line x1="37.00" y1="236.16" x2="40.00" y2="236.16" stroke="#000" stroke-width="1.0"/>
<text transform="translate(34.00 239.85) scale(0.833 1)" font-size="9.48" text-anchor="end">400</text>
<line x1="37.00" y1="198.39" x2="40.00" y2="198.39" stroke="#000" stroke-width="1.0"/>
<text transform="translate(34.00 202.08) scale(0.833 1)" font-size="9.48" text-anchor="end">600</text>
<rect x="74.00" y="233.60" width="11.60" height="78.10" fill="#808080"/>
<line x1="79.80" y1="221.30" x2="79.80" y2="233.60" stroke="#000" stroke-width="1.1"/>
<line x1="76.80" y1="221.30" x2="82.80" y2="221.30" stroke="#000" stroke-width="1.4"/>
<rect x="90.30" y="277.40" width="11.30" height="34.30" fill="#000"/>
<line x1="95.95" y1="271.60" x2="95.95" y2="277.40" stroke="#000" stroke-width="1.1"/>
<line x1="92.95" y1="271.60" x2="98.95" y2="271.60" stroke="#000" stroke-width="1.4"/>
<path d="M95.85 263.70L95.15 268.10M97.05 263.70L96.35 268.10M94.65 265.10H97.65M94.45 266.70H97.45" stroke="#000" stroke-width="0.70" fill="none"/>
<rect x="109.60" y="310.50" width="5.00" height="1.20" fill="#000"/>
<rect x="125.00" y="310.50" width="5.40" height="1.20" fill="#000"/>
<rect x="138.50" y="221.20" width="11.50" height="90.50" fill="#808080"/>
<line x1="144.25" y1="205.60" x2="144.25" y2="221.20" stroke="#000" stroke-width="1.1"/>
<line x1="141.25" y1="205.60" x2="147.25" y2="205.60" stroke="#000" stroke-width="1.4"/>
<rect x="154.40" y="261.20" width="11.20" height="50.50" fill="#000"/>
<line x1="160.00" y1="252.50" x2="160.00" y2="261.20" stroke="#000" stroke-width="1.1"/>
<line x1="157.00" y1="252.50" x2="163.00" y2="252.50" stroke="#000" stroke-width="1.4"/>
<path d="M159.90 244.60L159.20 249.00M161.10 244.60L160.40 249.00M158.70 246.00H161.70M158.50 247.60H161.50" stroke="#000" stroke-width="0.70" fill="none"/>
<line x1="37.00" y1="311.70" x2="167.50" y2="311.70" stroke="#000" stroke-width="1.2"/>
<line x1="40.00" y1="309.70" x2="40.00" y2="312.30" stroke="#000" stroke-width="1.2"/>
<text transform="translate(15.60 255.20) rotate(-90) scale(0.826 1)" font-size="10.42" text-anchor="middle">NOS2 mRNA (fold change)</text>
<text transform="translate(33.30 324.30) scale(0.833 1)" font-size="9.24" text-anchor="end">Fib</text>
<line x1="45.40" y1="322.00" x2="50.60" y2="322.00" stroke="#000" stroke-width="1.0"/>
<line x1="62.25" y1="322.00" x2="65.25" y2="322.00" stroke="#000" stroke-width="1.0"/>
<line x1="63.75" y1="320.50" x2="63.75" y2="323.50" stroke="#000" stroke-width="1.0"/>
<line x1="76.90" y1="322.00" x2="82.10" y2="322.00" stroke="#000" stroke-width="1.0"/>
<line x1="94.00" y1="322.00" x2="97.00" y2="322.00" stroke="#000" stroke-width="1.0"/>
<line x1="95.50" y1="320.50" x2="95.50" y2="323.50" stroke="#000" stroke-width="1.0"/>
<line x1="109.40" y1="322.00" x2="114.60" y2="322.00" stroke="#000" stroke-width="1.0"/>
<line x1="126.00" y1="322.00" x2="129.00" y2="322.00" stroke="#000" stroke-width="1.0"/>
<line x1="127.50" y1="320.50" x2="127.50" y2="323.50" stroke="#000" stroke-width="1.0"/>
<line x1="141.90" y1="322.00" x2="147.10" y2="322.00" stroke="#000" stroke-width="1.0"/>
<line x1="158.50" y1="322.00" x2="161.50" y2="322.00" stroke="#000" stroke-width="1.0"/>
<line x1="160.00" y1="320.50" x2="160.00" y2="323.50" stroke="#000" stroke-width="1.0"/>
<text transform="translate(33.30 334.20) scale(0.833 1)" font-size="9.24" text-anchor="end">IFN-<tspan font-style="italic">γ</tspan></text>
<line x1="45.40" y1="331.75" x2="50.60" y2="331.75" stroke="#000" stroke-width="1.0"/>
<line x1="61.15" y1="331.75" x2="66.35" y2="331.75" stroke="#000" stroke-width="1.0"/>
<line x1="78.00" y1="331.75" x2="81.00" y2="331.75" stroke="#000" stroke-width="1.0"/>
<line x1="79.50" y1="330.25" x2="79.50" y2="333.25" stroke="#000" stroke-width="1.0"/>
<line x1="94.00" y1="331.75" x2="97.00" y2="331.75" stroke="#000" stroke-width="1.0"/>
<line x1="95.50" y1="330.25" x2="95.50" y2="333.25" stroke="#000" stroke-width="1.0"/>
<line x1="109.40" y1="331.75" x2="114.60" y2="331.75" stroke="#000" stroke-width="1.0"/>
<line x1="124.90" y1="331.75" x2="130.10" y2="331.75" stroke="#000" stroke-width="1.0"/>
<line x1="143.00" y1="331.75" x2="146.00" y2="331.75" stroke="#000" stroke-width="1.0"/>
<line x1="144.50" y1="330.25" x2="144.50" y2="333.25" stroke="#000" stroke-width="1.0"/>
<line x1="158.50" y1="331.75" x2="161.50" y2="331.75" stroke="#000" stroke-width="1.0"/>
<line x1="160.00" y1="330.25" x2="160.00" y2="333.25" stroke="#000" stroke-width="1.0"/>
<text transform="translate(33.30 343.80) scale(0.833 1)" font-size="9.24" text-anchor="end">IL-4</text>
<line x1="45.40" y1="341.25" x2="50.60" y2="341.25" stroke="#000" stroke-width="1.0"/>
<line x1="61.15" y1="341.25" x2="66.35" y2="341.25" stroke="#000" stroke-width="1.0"/>
<line x1="76.90" y1="341.25" x2="82.10" y2="341.25" stroke="#000" stroke-width="1.0"/>
<line x1="92.90" y1="341.25" x2="98.10" y2="341.25" stroke="#000" stroke-width="1.0"/>
<line x1="110.50" y1="341.25" x2="113.50" y2="341.25" stroke="#000" stroke-width="1.0"/>
<line x1="112.00" y1="339.75" x2="112.00" y2="342.75" stroke="#000" stroke-width="1.0"/>
<line x1="126.00" y1="341.25" x2="129.00" y2="341.25" stroke="#000" stroke-width="1.0"/>
<line x1="127.50" y1="339.75" x2="127.50" y2="342.75" stroke="#000" stroke-width="1.0"/>
<line x1="143.00" y1="341.25" x2="146.00" y2="341.25" stroke="#000" stroke-width="1.0"/>
<line x1="144.50" y1="339.75" x2="144.50" y2="342.75" stroke="#000" stroke-width="1.0"/>
<line x1="158.50" y1="341.25" x2="161.50" y2="341.25" stroke="#000" stroke-width="1.0"/>
<line x1="160.00" y1="339.75" x2="160.00" y2="342.75" stroke="#000" stroke-width="1.0"/>
<text transform="translate(180.50 190.20) scale(0.88 1)" font-size="13.6" font-weight="bold">E</text>
<line x1="212.00" y1="195.50" x2="212.00" y2="312.30" stroke="#000" stroke-width="1.2"/>
<line x1="209.00" y1="311.70" x2="212.00" y2="311.70" stroke="#000" stroke-width="1.0"/>
<text transform="translate(205.80 314.35) scale(0.833 1)" font-size="9.36" text-anchor="end">0</text>
<line x1="209.00" y1="289.10" x2="212.00" y2="289.10" stroke="#000" stroke-width="1.0"/>
<text transform="translate(205.80 291.75) scale(0.833 1)" font-size="9.36" text-anchor="end">50</text>
<line x1="209.00" y1="266.50" x2="212.00" y2="266.50" stroke="#000" stroke-width="1.0"/>
<text transform="translate(205.80 269.15) scale(0.833 1)" font-size="9.36" text-anchor="end">100</text>
<line x1="209.00" y1="243.90" x2="212.00" y2="243.90" stroke="#000" stroke-width="1.0"/>
<text transform="translate(205.80 246.55) scale(0.833 1)" font-size="9.36" text-anchor="end">150</text>
<line x1="209.00" y1="221.30" x2="212.00" y2="221.30" stroke="#000" stroke-width="1.0"/>
<text transform="translate(205.80 223.95) scale(0.833 1)" font-size="9.36" text-anchor="end">200</text>
<line x1="209.00" y1="198.50" x2="212.00" y2="198.50" stroke="#000" stroke-width="1.0"/>
<text transform="translate(205.80 201.15) scale(0.833 1)" font-size="9.36" text-anchor="end">250</text>
<rect x="218.90" y="266.20" width="29.10" height="45.50" fill="#808080"/>
<rect x="261.20" y="288.10" width="29.60" height="23.60" fill="#000"/>
<line x1="276.00" y1="286.80" x2="276.00" y2="288.10" stroke="#000" stroke-width="1.1"/>
<line x1="269.00" y1="286.80" x2="283.00" y2="286.80" stroke="#000" stroke-width="1.4"/>
<circle cx="276.00" cy="283.20" r="1.15" fill="#000"/>
<rect x="304.20" y="246.00" width="29.00" height="65.70" fill="#808080"/>
<line x1="318.70" y1="222.50" x2="318.70" y2="246.00" stroke="#000" stroke-width="1.1"/>
<line x1="311.70" y1="222.50" x2="325.70" y2="222.50" stroke="#000" stroke-width="1.4"/>
<line x1="209.00" y1="311.70" x2="341.50" y2="311.70" stroke="#000" stroke-width="1.2"/>
<line x1="212.00" y1="309.70" x2="212.00" y2="312.30" stroke="#000" stroke-width="1.2"/>
<text transform="translate(186.90 255.40) rotate(-90) scale(0.827 1)" font-size="10.42" text-anchor="middle">NOS2 mRNA (% of BSA)</text>
<text transform="translate(232.80 324.80) scale(0.833 1)" font-size="9.48" text-anchor="middle">BSA</text>
<text transform="translate(232.80 335.20) scale(0.833 1)" font-size="9.48" text-anchor="middle">IFN-<tspan font-style="italic">γ</tspan></text>
<text transform="translate(276.80 324.80) scale(0.833 1)" font-size="9.48" text-anchor="middle">WT Fib</text>
<text transform="translate(276.80 335.20) scale(0.833 1)" font-size="9.48" text-anchor="middle">IFN-<tspan font-style="italic">γ</tspan></text>
<text transform="translate(317.80 324.80) scale(0.833 1)" font-size="9.12" text-anchor="middle"><tspan font-style="italic">γ</tspan><tspan font-size="7.80" dy="-2.4">390–396A Fib</tspan></text>
<text transform="translate(317.80 335.20) scale(0.833 1)" font-size="9.48" text-anchor="middle">IFN-<tspan font-style="italic">γ</tspan></text>
<rect x="0.5" y="0.5" width="519" height="701" fill="none" stroke="#444" stroke-width="1"/>
</svg></body></html>
